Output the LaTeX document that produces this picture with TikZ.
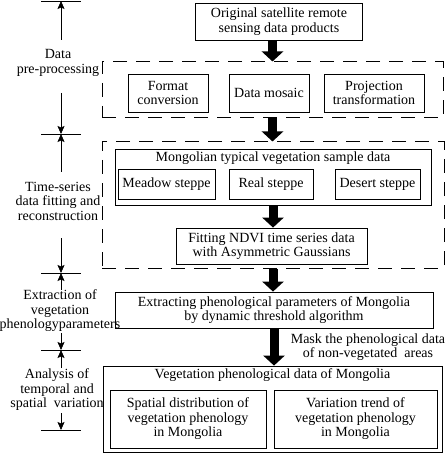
\documentclass[tikz,border=0pt]{standalone}
\usepackage{fontspec}
\setmainfont{Liberation Serif}
\usetikzlibrary{arrows.meta,positioning}

\begin{document}
\begin{tikzpicture}[x=1pt, y=-1pt,
      font=\fontsize{14}{14.5}\selectfont,
      box/.style={draw, line width=0.8pt, align=center, inner sep=2pt},
      dashbox/.style={draw, line width=1pt, dash pattern=on 14pt off 9pt},
      fat/.style={-{Triangle[width=21pt,length=10pt]}, line width=9pt},
      axis/.style={-{Stealth[length=8pt,width=7pt,inset=1.5pt]}, line width=0.7pt},
      ruler/.style={line width=0.7pt}
    ]
      \useasboundingbox (0,0) rectangle (446,454);

      % main column
      \node[box, minimum width=167pt, minimum height=37pt] (src) at (279,21.5)
        {Original satellite remote\\sensing data products};

      \node[dashbox, minimum width=341pt, minimum height=56pt] (pre) at (272.5,90) {};
      \node[box, minimum width=80pt, minimum height=38pt] (fmt) at (168,93) {Format\\conversion};
      \node[box, minimum width=80pt, minimum height=38pt] (mosaic) at (269,93) {Data mosaic};
      \node[box, minimum width=100pt, minimum height=38pt] (proj) at (374,93) {Projection\\transformation};

      \node[dashbox, minimum width=342pt, minimum height=126pt] (fitbox) at (273,205) {};
      \node[box, minimum width=316pt, minimum height=56pt] (mong) at (273,177) {};
      \node[below=0pt of mong.north] (mongtitle) {Mongolian typical vegetation sample data};
      \node[box, minimum width=97pt, minimum height=30pt] (meadow) at (166.5,184.5) {Meadow steppe};
      \node[box, minimum width=84pt, minimum height=30pt] (real) at (271,184.5) {Real steppe};
      \node[box, minimum width=85pt, minimum height=30pt] (desert) at (377.5,184.5) {Desert steppe};
      \node[box, minimum width=191pt, minimum height=36pt] (ndvi) at (271.5,246)
        {Fitting NDVI time series data\\with Asymmetric Gaussians};

      \node[box, minimum width=318pt, minimum height=36pt] (extr) at (274,310)
        {Extracting phenological parameters of Mongolia\\by dynamic threshold algorithm};
      \node[align=center] (mask) at (368,347)
        {Mask the phenological data\\of non-vegetated\enspace areas};

      \node[box, minimum width=339pt, minimum height=86pt] (veg) at (272.5,409) {};
      \node[below=0pt of veg.north] (vegtitle) {Vegetation phenological data of Mongolia};
      \node[box, minimum width=156pt, minimum height=58pt] (spatial) at (188,419)
        {Spatial distribution of\\vegetation phenology\\in Mongolia};
      \node[box, minimum width=163pt, minimum height=58pt] (trend) at (355.5,419)
        {Variation trend of\\vegetation phenology\\in Mongolia};

      \draw[fat] (src.south -| pre.north) -- (pre.north);
      \draw[fat] (pre.south) -- (pre.south |- fitbox.north);
      \draw[fat] (mong.south) -- (mong.south |- ndvi.north);
      \draw[fat] (fitbox.south) -- (fitbox.south |- extr.north);
      \draw[fat] (extr.south) -- (extr.south |- veg.north);

      % stages on the left
      \node[align=center] (lab1) at (58,63) {Data\\pre-processing};
      \node[align=center] (lab2) at (58,201) {Time-series\\data fitting and\\reconstruction};
      \node[align=center] (lab3) at (60,311) {Extraction of\\vegetation\\phenologyparameters};
      \node[align=center] (lab4) at (57,390) {Analysis of\\temporal and\\spatial\enspace variation};

      \coordinate (t0) at (61,1);
      \coordinate (t1) at (61,134);
      \coordinate (t2) at (61,273);
      \coordinate (t3) at (61,350);
      \coordinate (t4) at (61,430);
      \foreach \t in {t0,t1,t2,t3,t4}
        \draw[ruler] ([xshift=-20pt]\t) -- ([xshift=20pt]\t);

      \draw[axis] (t0 |- 0,40) -- (t0);
      \draw[axis] (t0 |- 0,93) -- (t1);
      \draw[axis] (t1 |- 0,172) -- (t1);
      \draw[axis] (t1 |- 0,238) -- (t2);
      \draw[axis] (t2 |- 0,290) -- (t2);
      \draw[axis] (t2 |- 0,333) -- (t3);
      \draw[axis] (t3 |- 0,368) -- (t3);
      \draw[axis] (t3 |- 0,413) -- (t4);
    \end{tikzpicture}
\end{document}
